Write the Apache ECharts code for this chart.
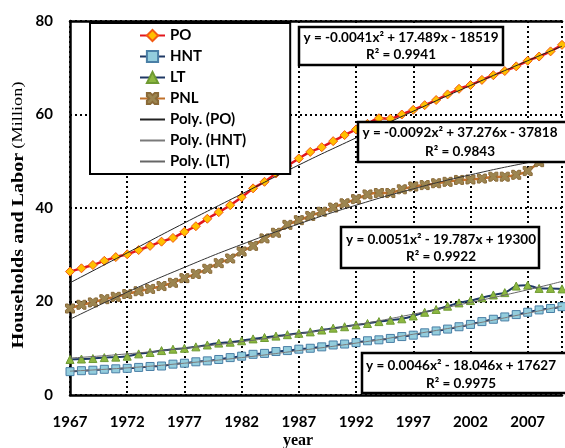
<!DOCTYPE html>
<html>
<head>
<meta charset="utf-8">
<script src="https://cdn.jsdelivr.net/npm/echarts@6/dist/echarts.min.js"></script>
<style>html,body{margin:0;padding:0;background:#fff;}#c{width:565px;height:448px;}</style>
</head>
<body>
<div id="c"></div>
<script>
const years = [1967,1968,1969,1970,1971,1972,1973,1974,1975,1976,1977,1978,1979,1980,1981,1982,1983,1984,1985,1986,1987,1988,1989,1990,1991,1992,1993,1994,1995,1996,1997,1998,1999,2000,2001,2002,2003,2004,2005,2006,2007,2008,2009,2010];
const po  = [26.4,27.1,27.8,28.7,29.5,30.1,31.0,31.9,32.8,33.6,34.9,36.1,37.7,39.1,40.6,42.3,44.2,45.6,47.4,49.0,50.6,52.0,53.0,54.3,55.6,56.8,58.0,59.2,59.1,60.0,61.0,62.0,63.1,64.3,65.5,66.3,67.4,68.4,69.3,70.3,71.5,72.4,73.5,74.9];
const hnt = [5.0,5.2,5.3,5.5,5.6,5.7,5.9,6.1,6.2,6.6,6.8,7.1,7.3,7.6,8.0,8.3,8.7,8.9,9.3,9.5,9.8,10.0,10.3,10.7,10.9,11.2,11.6,11.8,12.1,12.5,12.8,13.3,13.7,14.1,14.6,15.1,15.7,16.2,16.7,17.2,17.7,18.2,18.5,18.9];
const lt  = [7.6,7.7,7.8,8.0,8.1,8.3,8.8,9.1,9.5,9.8,10.0,10.3,10.7,11.1,11.3,11.6,12.0,12.3,12.6,12.9,13.2,13.5,13.9,14.3,14.6,15.0,15.3,15.7,16.0,16.3,16.9,17.7,18.3,19.0,19.7,20.2,20.8,21.4,21.9,23.3,23.5,22.8,22.8,22.7];
const pnl = [18.5,19.3,19.8,20.5,21.0,21.6,22.2,22.7,23.3,24.0,25.0,25.9,27.0,28.2,29.2,30.7,31.9,33.5,34.7,36.4,37.4,38.3,39.2,40.1,41.0,41.9,42.9,43.2,43.2,44.0,44.6,44.9,45.3,45.6,46.0,46.1,46.3,46.7,46.7,47.1,47.9,49.8,51.5,52.3];

const trendYears = [1967,1972,1977,1982,1987,1992,1997,2002,2007,2010];
const poTrend  = [24.0,30.4,36.8,43.0,49.2,55.0,60.7,66.2,71.5,74.6];
const hntTrend = [5.1,5.8,6.8,8.0,9.5,11.1,13.0,15.1,17.5,19.0];
const ltTrend  = [7.9,8.8,10.0,11.4,13.1,15.0,17.3,19.8,22.5,24.3];
const pnlTrend = [16.2,22.0,27.3,32.2,36.6,40.6,44.1,47.1,49.7,51.0];

const xTickLabels = [1967,1972,1977,1982,1987,1992,1997,2002,2007];
const yTickLabels = [0,20,40,60,80];

const equations = [
  ['y = -0.0041x\u00B2 + 17.489x - 18519', 'R\u00B2 = 0.9941'],
  ['y = -0.0092x\u00B2 + 37.276x - 37818', 'R\u00B2 = 0.9843'],
  ['y = 0.0051x\u00B2 - 19.787x + 19300', 'R\u00B2 = 0.9922'],
  ['y = 0.0046x\u00B2 - 18.046x + 17627', 'R\u00B2 = 0.9975']
];

const zip = (xs, ys) => xs.map((x, i) => [x, ys[i]]);
const FONT = 'Lato';
const xPath = 'path://M0,0 L3,0 L5,2 L7,0 L10,0 L10,3 L8,5 L10,7 L10,10 L7,10 L5,8 L3,10 L0,10 L0,7 L2,5 L0,3 Z';

// equation box layouts [x, y, w, h, textCenterX, line1Y, line2Y]
const boxes = [
  [299, 27, 204, 38, 401, 37.5, 55],
  [358, 122, 212, 40, 460, 133, 152],
  [341, 227, 198, 41, 441, 239.5, 257],
  [362, 353, 206, 40, 461, 366, 383.5]
];
const graphics = [];
boxes.forEach((b, i) => {
  graphics.push({type:'rect', z:100, shape:{x:b[0], y:b[1], width:b[2], height:b[3]},
    style:{fill:'#fff', stroke:'#000', lineWidth:2.5}});
  graphics.push({type:'text', z:101, x:b[4], y:b[5], style:{text:equations[i][0], fontFamily:FONT, fontWeight:'bold', fontSize:13.5, fill:'#000', align:'center', verticalAlign:'middle'}});
  graphics.push({type:'text', z:101, x:b[4], y:b[6], style:{text:equations[i][1], fontFamily:FONT, fontWeight:'bold', fontSize:13.5, fill:'#000', align:'center', verticalAlign:'middle'}});
});
graphics.push({type:'text', z:101, x:298, y:441, style:{text:'year', fontFamily:'Liberation Serif', fontWeight:'bold', fontSize:16, fill:'#000', align:'center', verticalAlign:'middle'}});
graphics.push({type:'text', z:101, x:18.5, y:215, rotation:Math.PI/2, scaleX:1.22,
  style:{text:'{b|Households and Labor} {n|(Million)}', align:'center', verticalAlign:'middle',
    rich:{
      b:{fontFamily:'Liberation Serif', fontWeight:'bold', fontSize:16.5, fill:'#000'},
      n:{fontFamily:'Liberation Serif', fontWeight:'normal', fontSize:15, fill:'#000'}
    }}});

const trendStyle = (c) => ({smooth:true, symbol:'circle', showSymbol:false, z:5,
  lineStyle:{color:c, width:1}, itemStyle:{color:'rgba(0,0,0,0)', borderWidth:0}});

const chart = echarts.init(document.getElementById('c'), null, {renderer:'canvas'});
chart.setOption({
  animation: false,
  backgroundColor: '#fff',
  grid: {left:70, top:21, right:-4, bottom:53},
  legend: {
    orient:'vertical', left:90, top:23,
    data:['PO','HNT','LT','PNL','Poly. (PO)','Poly. (HNT)','Poly. (LT)'],
    itemWidth:25, itemHeight:14, itemGap:6, itemTextGap:3,
    padding:[5,44,5,49],
    backgroundColor:'#fff', borderColor:'#000', borderWidth:2,
    textStyle:{fontFamily:FONT, fontWeight:'bold', fontSize:15, color:'#000'},
    z: 50
  },
  xAxis: [{
    type:'value', min:1967, max:2010, interval:5,
    axisLine:{show:true, lineStyle:{color:'#000', width:2.5}},
    axisTick:{show:false},
    axisLabel:{margin:20, fontFamily:FONT, fontWeight:'bold', fontSize:15, color:'#000',
      formatter: v => xTickLabels.includes(v) ? String(v) : ''},
    splitLine:{show:true, lineStyle:{color:'#000', width:2, type:[2,3]}}
  },{
    type:'value', position:'top', min:1967, max:2010, interval:5,
    axisLine:{show:true, onZero:false, lineStyle:{color:'#000', width:2.5}},
    axisTick:{show:false}, axisLabel:{show:false}, splitLine:{show:false}
  }],
  yAxis: {
    type:'value', min:0, max:80, interval:20,
    axisLine:{show:true, lineStyle:{color:'#000', width:2.5}},
    axisTick:{show:false},
    axisLabel:{margin:17, fontFamily:FONT, fontWeight:'bold', fontSize:15, color:'#000',
      formatter: v => yTickLabels.includes(v) ? String(v) : ''},
    splitLine:{show:true, lineStyle:{color:'#000', width:2, type:[2,3]}}
  },
  series: [
    {name:'PO', type:'line', data:zip(years, po), smooth:0.2, symbol:'diamond', symbolSize:9, z:3,
      lineStyle:{color:'#E3161C', width:2.5}, itemStyle:{color:'#FFC000', borderColor:'#F25A12', borderWidth:1}},
    {name:'HNT', type:'line', data:zip(years, hnt), smooth:0.2, symbol:'rect', symbolSize:8, z:3,
      lineStyle:{color:'#1F3864', width:2}, itemStyle:{color:'#93CDDD', borderColor:'#4A7FA6', borderWidth:1}},
    {name:'LT', type:'line', data:zip(years, lt), smooth:0.2, symbol:'triangle', symbolSize:8, z:3,
      lineStyle:{color:'#1F3864', width:2}, itemStyle:{color:'#8DB840', borderColor:'#6E9A32', borderWidth:1}},
    {name:'PNL', type:'line', data:zip(years, pnl), smooth:0.2, symbol:xPath, symbolSize:9, z:3,
      lineStyle:{color:'#C0702A', width:2.5}, itemStyle:{color:'#9C8550', borderColor:'#8A6A38', borderWidth:1}},
    Object.assign({name:'Poly. (PO)', type:'line', data:zip(trendYears, poTrend)}, trendStyle('#222')),
    Object.assign({name:'Poly. (HNT)', type:'line', data:zip(trendYears, hntTrend)}, trendStyle('#7a7a7a')),
    Object.assign({name:'Poly. (LT)', type:'line', data:zip(trendYears, ltTrend)}, trendStyle('#666')),
    Object.assign({name:'Poly. (PNL)', type:'line', data:zip(trendYears, pnlTrend)}, trendStyle('#333'))
  ],
  graphic: graphics
});
</script>
</body>
</html>
